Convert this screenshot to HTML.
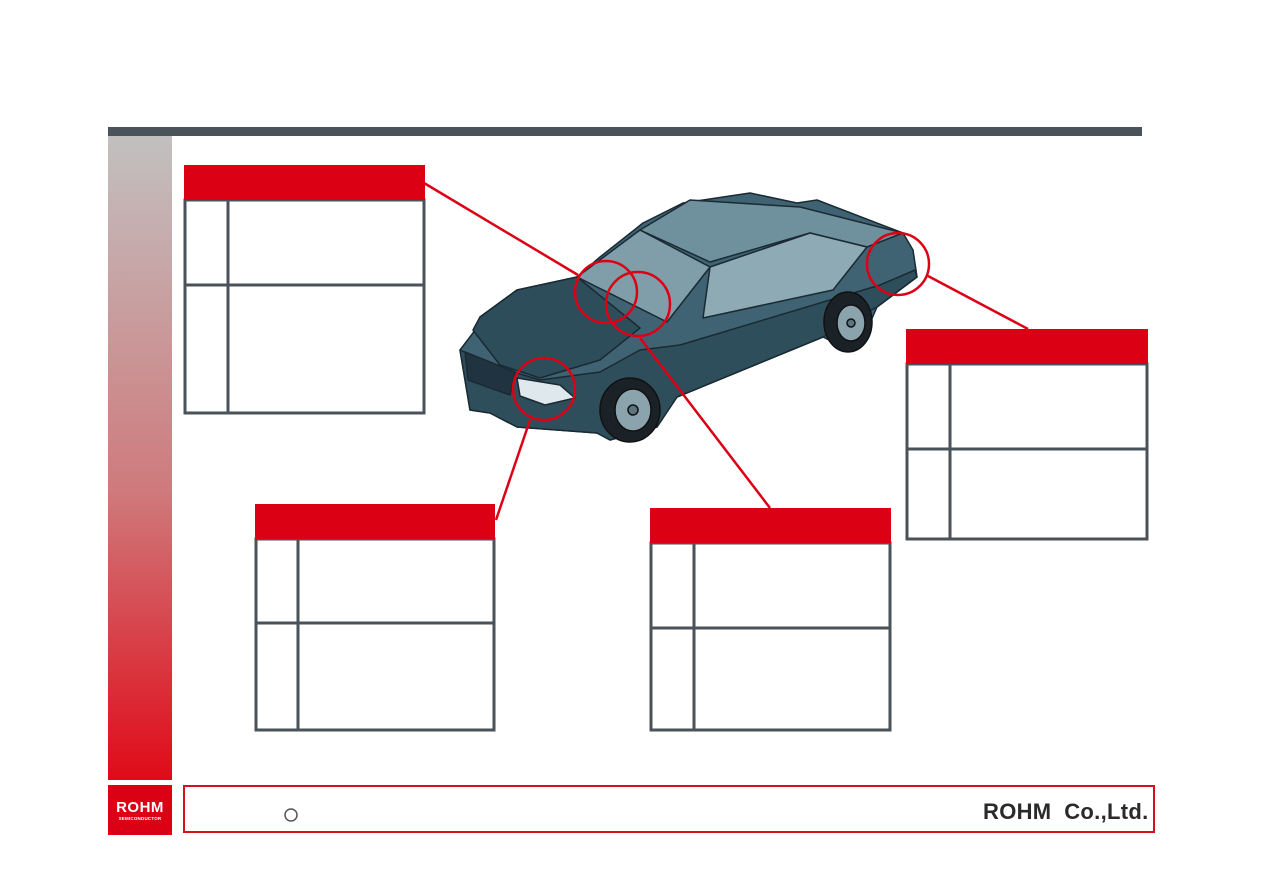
<!DOCTYPE html>
<html><head><meta charset="utf-8"><style>
html,body{margin:0;padding:0;background:#fff;width:1263px;height:893px;overflow:hidden;position:relative;font-family:"Liberation Sans",sans-serif}
.a{position:absolute}
</style></head><body>
<div class="a" style="left:108px;top:127px;width:1034px;height:9px;background:#4a525a"></div>
<div class="a" style="left:108px;top:136px;width:64px;height:644px;background:linear-gradient(#c2c0c0,#cf7a7c 55%,#e00a18)"></div>
<div class="a" style="left:108px;top:785px;width:64px;height:50px;background:#dc0015;color:#fff;text-align:center">
<div style="font-weight:bold;font-size:15px;margin-top:14px;letter-spacing:0.5px">ROHM</div>
<div style="font-size:4.5px;font-weight:bold;letter-spacing:0.2px">SEMICONDUCTOR</div></div>
<div class="a" style="left:183px;top:785px;width:968px;height:44px;border:2px solid #d8101e"></div>
<div class="a" style="left:983px;top:799px;font-size:22px;font-weight:bold;color:#2a2a2a;letter-spacing:0.3px">ROHM&nbsp; Co.,Ltd.</div>
<svg class="a" style="left:0;top:0" width="1263" height="893">
<circle cx="291" cy="815" r="6" fill="none" stroke="#555" stroke-width="1.5"/>
<g fill="none" stroke="#4a525a" stroke-width="3">
<rect x="185" y="200" width="239" height="213"/><line x1="228" y1="200" x2="228" y2="413"/><line x1="185" y1="285" x2="424" y2="285"/>
<rect x="256" y="539" width="238" height="191"/><line x1="298" y1="539" x2="298" y2="730"/><line x1="256" y1="623" x2="494" y2="623"/>
<rect x="651" y="543" width="239" height="187"/><line x1="694" y1="543" x2="694" y2="730"/><line x1="651" y1="628" x2="890" y2="628"/>
<rect x="907" y="364" width="240" height="175"/><line x1="950" y1="364" x2="950" y2="539"/><line x1="907" y1="449" x2="1147" y2="449"/>
</g>
<g fill="#dc0015">
<rect x="184" y="165" width="241" height="35"/>
<rect x="255" y="504" width="240" height="35"/>
<rect x="650" y="508" width="241" height="35"/>
<rect x="906" y="329" width="242" height="35"/>
</g>
<!-- car -->
<g stroke="#1a2a33" stroke-width="1.5" stroke-linejoin="round">
<path d="M460 350 L470 410 L490 413 L517 427 L597 433 L610 440 L657 427 L677 397 L823 337 L843 347 L870 323 L877 307 L917 277 L913 250 L903 233 L817 200 L797 203 L750 193 L683 203 L643 223 L600 257 L577 277 L517 290 L480 317 L473 333 Z" fill="#3f6373"/>
<path d="M473 330 L480 317 L517 290 L577 277 L640 328 L600 360 L540 378 L500 365 Z" fill="#2e4d5b"/>
<path d="M577 277 L640 230 L710 267 L667 322 Z" fill="#7f9ea9"/>
<path d="M640 230 L690 200 L800 207 L903 233 L867 247 L810 233 L710 262 Z" fill="#6f909d"/>
<path d="M710 267 L810 233 L867 247 L833 290 L703 318 Z" fill="#8eaab4"/>
<path d="M460 350 L500 368 L540 380 L600 372 L640 350 L680 345 L830 300 L880 285 L915 270 L917 277 L877 307 L823 337 L677 397 L657 427 L610 440 L597 433 L517 427 L490 413 L470 410 Z" fill="#2f4e5c"/>
<path d="M517 378 L560 385 L575 398 L545 405 L520 396 Z" fill="#dfe8ec"/>
<path d="M465 352 L515 372 L510 395 L468 380 Z" fill="#1f3440"/>
</g>
<g stroke="#111" stroke-width="1.5">
<ellipse cx="630" cy="410" rx="30" ry="32" fill="#1a2228"/><ellipse cx="633" cy="410" rx="18" ry="21" fill="#8aa3ad"/><circle cx="633" cy="410" r="5" fill="#5c7480"/>
<ellipse cx="848" cy="322" rx="24" ry="30" fill="#1a2228"/><ellipse cx="851" cy="323" rx="14" ry="18" fill="#8aa3ad"/><circle cx="851" cy="323" r="4" fill="#5c7480"/>
</g>
<g stroke="#dc0015" stroke-width="2.5" fill="none">
<line x1="424" y1="183" x2="578" y2="275"/>
<line x1="530" y1="420" x2="496" y2="520"/>
<line x1="640" y1="338" x2="770" y2="508"/>
<line x1="928" y1="276" x2="1028" y2="329"/>
<circle cx="606" cy="292" r="31"/>
<circle cx="638" cy="304" r="32"/>
<circle cx="544" cy="389" r="31"/>
<circle cx="898" cy="264" r="31"/>
</g>
</svg>
</body></html>
